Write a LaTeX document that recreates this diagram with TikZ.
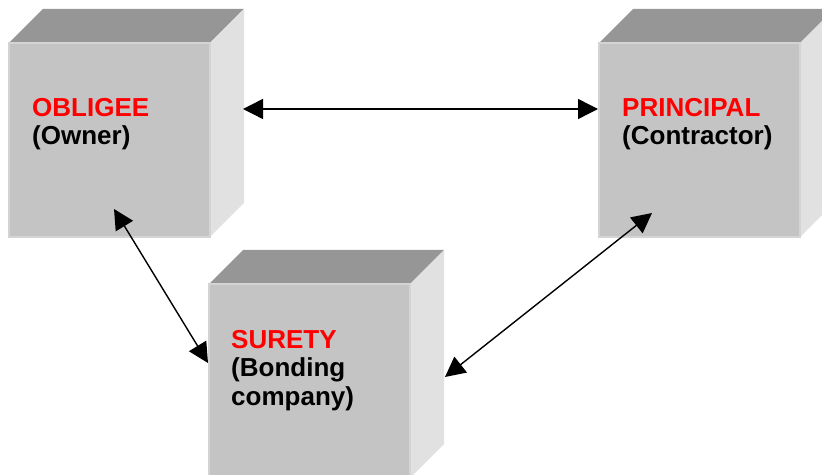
\documentclass[tikz,border=0pt]{standalone}
\usepackage{fontspec}
\setmainfont{Liberation Sans}
\usetikzlibrary{arrows.meta, positioning, calc, backgrounds}
\definecolor{frontgray}{RGB}{196,196,196}
\definecolor{topgray}{RGB}{150,150,150}
\definecolor{sidegray}{RGB}{225,225,225}
\definecolor{edgegray}{RGB}{212,212,212}
\tikzset{
  face/.style  = {rectangle, fill=frontgray, draw=edgegray, line width=2pt,
                  minimum width=201pt, minimum height=194pt,
                  inner sep=0pt, outer sep=0pt},
  topf/.style  = {fill=topgray},
  sidef/.style = {fill=sidegray},
  lbl/.style   = {anchor=north west, inner sep=0pt, align=left,
                  font=\bfseries\fontsize{26}{28.5}\selectfont},
  arr/.style   = {{Triangle[length=20pt,width=20pt]}-{Triangle[length=20pt,width=20pt]},
                  line width=1.4pt},
}

\begin{document}
\begin{tikzpicture}[x=1pt, y=1pt]
  \useasboundingbox (0,0) rectangle (822,474);

  \node[face] (obligee) at (109.5,334) {};
  \node[face, right=389pt of obligee] (principal) {};
  \node[face, below=47pt of obligee, xshift=200pt] (surety) {};

  % top and right side of each box
  \begin{scope}[on background layer]
    \foreach \b in {obligee, principal, surety} {
      \fill[topf] (\b.north west) -- ++(34,34)
        -- ($(\b.north east)+(34,34)$) -- (\b.north east) -- cycle;
      \fill[sidef] (\b.north east) -- ++(34,34)
        -- ($(\b.south east)+(34,34)$) -- (\b.south east) -- cycle;
    }
  \end{scope}

  \node[lbl] (obligee-txt) at ($(obligee.north west)+(23,-55)$)
    {\textcolor{red}{OBLIGEE}\\(Owner)};
  \node[lbl] (principal-txt) at ($(principal.north west)+(23,-55)$)
    {\textcolor{red}{PRINCIPAL}\\(Contractor)};
  \node[lbl] (surety-txt) at ($(surety.north west)+(22,-46)$)
    {\textcolor{red}{SURETY}\\(Bonding\\company)};

  % arrow ends on the box faces
  \coordinate (obl-r) at ($(obligee.east)+(33,31)$);
  \coordinate (pri-l) at ($(principal.west)+(-1,31)$);
  \coordinate (obl-b) at ($(obligee.south)+(4.5,28)$);
  \coordinate (sur-l) at ($(surety.west)+(-1,18)$);
  \coordinate (pri-b) at ($(principal.south)+(-47.5,24)$);
  \coordinate (sur-r) at ($(surety.east)+(35,4)$);

  \draw[arr] (obl-r) -- (pri-l);
  \draw[arr] (obl-b) -- (sur-l);
  \draw[arr] (pri-b) -- (sur-r);
\end{tikzpicture}
\end{document}
